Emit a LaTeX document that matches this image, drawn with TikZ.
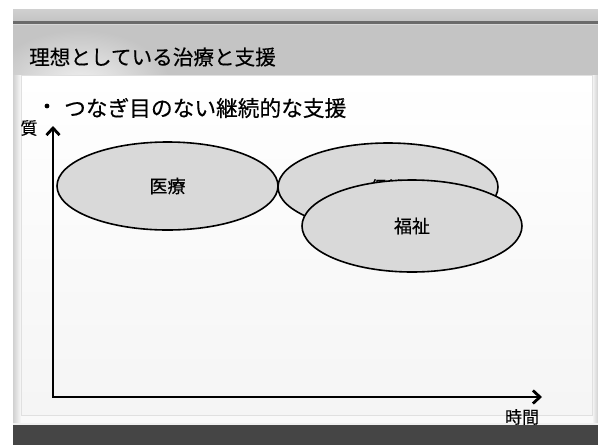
\documentclass[tikz,border=0pt]{standalone}
\usepackage{fontspec}
\setmainfont{Noto Sans CJK JP}[FakeBold=0.35]
\usetikzlibrary{arrows.meta,shapes.geometric}
\definecolor{slidegray}{HTML}{C4C4C4}
\definecolor{darkline}{HTML}{6A6A6A}
\definecolor{bandgray}{HTML}{454545}
\definecolor{ellfill}{HTML}{D9D9D9}
\tikzset{
  bubble/.style={ellipse, draw=black, line width=1.6pt, fill=ellfill, inner sep=0pt, font=\fontsize{18}{18}\selectfont},
  axis/.style={line width=2.8pt, -{Straight Barb[length=7pt,width=13pt,line width=2.8pt]}},
  axlabel/.style={inner sep=0pt, font=\fontsize{17}{17}\selectfont}
}
\begin{document}
\begin{tikzpicture}[x=1pt,y=-1pt]
\useasboundingbox (0,0) rectangle (598,445);
\fill[white] (0,0) rectangle (598,445);
% slide frame
\fill[top color=slidegray!80, bottom color=slidegray] (13,9) rectangle (598,21);
\fill[darkline] (13,21) rectangle (598,24);
\fill[slidegray!70!white] (13,24) rectangle (598,25);
\fill[slidegray] (13,25) rectangle (598,75);
\begin{scope}
\clip (13,9) rectangle (598,75);
\shade[inner color=white!75!slidegray, outer color=slidegray] (80,85) ellipse (90pt and 55pt);
\end{scope}
\fill[left color=slidegray!80!white, right color=white!90!slidegray] (13,75) rectangle (21,425);
\fill[left color=white!90!slidegray, right color=slidegray!80!white] (592,75) rectangle (598,425);
\fill[white!90!slidegray] (21,415) rectangle (592,425);
\fill[white!75!slidegray] (13,423) rectangle (598,425);
\fill[bandgray] (13,425) rectangle (598,445);
% content box
\fill[top color=white, bottom color=white!96!black, draw=white!88!black, line width=0.6pt] (21,75) rectangle (592,415);
% title
\node[anchor=west, inner sep=0pt, font=\fontsize{20.6}{20.6}\selectfont] (title) at (29,57) {理想としている治療と支援};
% bullet
\node[anchor=west, inner sep=0pt, font=\fontsize{21.7}{21.7}\selectfont] (bullet) at (64,108) {つなぎ目のない継続的な支援};
\fill (47,106) circle (2.4pt) coordinate (dot);
% axes
\coordinate (origin) at (53,397);
\coordinate (ytop) at (53,126);
\coordinate (xend) at (542,397);
\draw[line width=2.8pt] (53,128) |- (538,397);
\draw[axis] (origin) -- (ytop);
\draw[axis] (origin) -- (xend);
\node[axlabel] (qual) at (29,128) {質};
\node[axlabel] (time) at (522,417) {時間};
% bubbles
\node[bubble, minimum width=221pt, minimum height=88pt] (iryo) at (167.5,186) {医療};
\node[bubble, minimum width=220pt, minimum height=88pt] (hoken) at (388,187) {};
\node[axlabel] (hokentext) at (387,187) {保健};
\node[bubble, minimum width=220pt, minimum height=92pt] (fukushi) at (412,226) {福祉};
\end{tikzpicture}
\end{document}
